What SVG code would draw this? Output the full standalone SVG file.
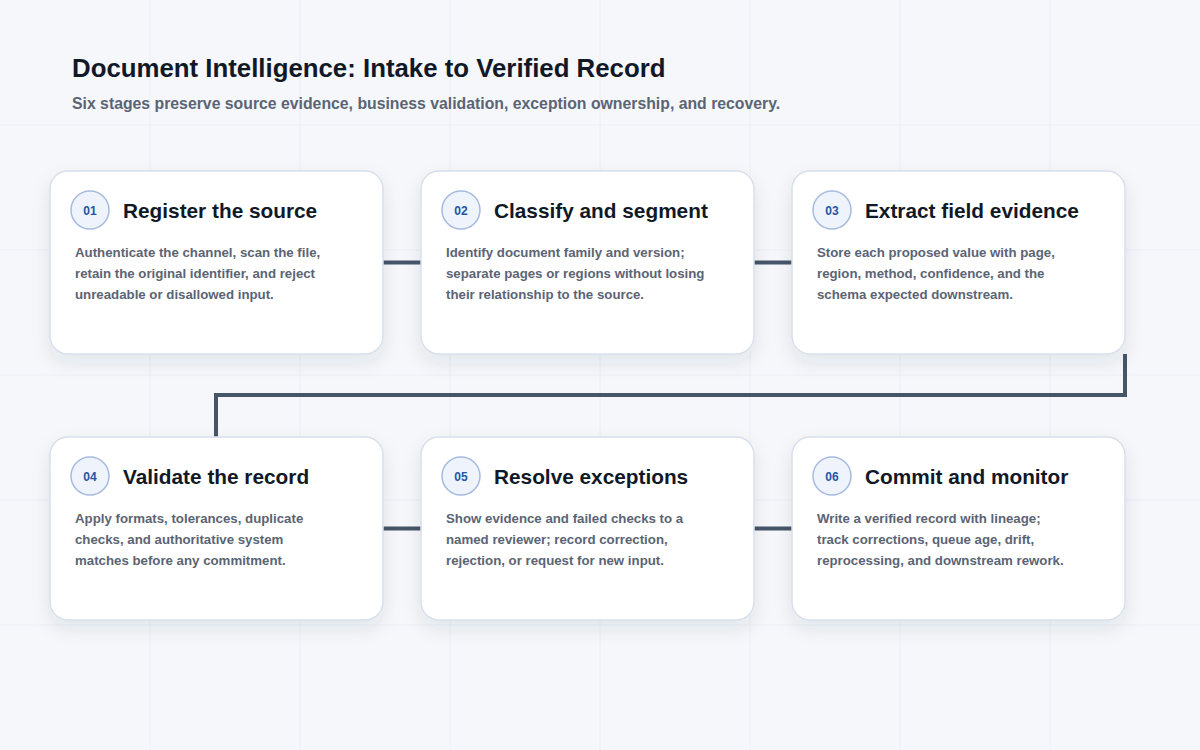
<svg xmlns="http://www.w3.org/2000/svg" width="1200" height="750" viewBox="0 0 1200 750">
<defs>
<style>
.bg{fill:#f5f7fb}
.grid{stroke:#ebeef4;stroke-width:1;fill:none}
.card{fill:#ffffff;stroke:#d8dfeb;stroke-width:1.5}
.badge{fill:#eef3fc;stroke:#a7bbdf;stroke-width:1.5}
.num{font-family:"Liberation Sans",Arial,sans-serif;font-weight:700;font-size:12px;fill:#2455a4;text-anchor:middle}
.ttl{font-family:"Liberation Sans",Arial,sans-serif;font-weight:700;font-size:20.8px;fill:#111827}
.body{font-family:"Liberation Sans",Arial,sans-serif;font-weight:700;font-size:13.25px;fill:#5b6474}
.h1{font-family:"Liberation Sans",Arial,sans-serif;font-weight:700;font-size:25.8px;fill:#111827}
.sub{font-family:"Liberation Sans",Arial,sans-serif;font-weight:700;font-size:15.8px;fill:#5b6474}
.conn{stroke:#475569;stroke-width:4;fill:none;stroke-linejoin:miter}
</style>
<filter id="sh" x="-20%" y="-20%" width="140%" height="150%">
<feDropShadow dx="0" dy="8" stdDeviation="9" flood-color="#1e293b" flood-opacity="0.09"/>
</filter>
</defs>
<rect class="bg" x="0" y="0" width="1200" height="750"/>
<g id="grid">
<path class="grid" d="M150 0V750M300 0V750M450 0V750M600 0V750M750 0V750M900 0V750M1050 0V750M0 125H1200M0 250H1200M0 375H1200M0 500H1200M0 625H1200"/>
</g>
<g id="header">
<text class="h1" x="72" y="77">Document Intelligence: Intake to Verified Record</text>
<text class="sub" x="72" y="109">Six stages preserve source evidence, business validation, exception ownership, and recovery.</text>
</g>
<g id="connectors">
<path class="conn" d="M383 262.5H421"/>
<path class="conn" d="M754 262.5H792"/>
<path class="conn" d="M1125 354V395H216V437"/>
<path class="conn" d="M383 528.5H421"/>
<path class="conn" d="M754 528.5H792"/>
</g>
<g id="node01">
<rect class="card" x="50" y="171" width="333" height="183" rx="18" filter="url(#sh)"/>
<circle class="badge" cx="90" cy="210" r="19"/>
<text class="num" x="90" y="214.5">01</text>
<text class="ttl" x="123" y="218">Register the source</text>
<text class="body" x="75" y="257">Authenticate the channel, scan the file,</text>
<text class="body" x="75" y="278">retain the original identifier, and reject</text>
<text class="body" x="75" y="299">unreadable or disallowed input.</text>
</g>
<g id="node02">
<rect class="card" x="421" y="171" width="333" height="183" rx="18" filter="url(#sh)"/>
<circle class="badge" cx="461" cy="210" r="19"/>
<text class="num" x="461" y="214.5">02</text>
<text class="ttl" x="494" y="218">Classify and segment</text>
<text class="body" x="446" y="257">Identify document family and version;</text>
<text class="body" x="446" y="278">separate pages or regions without losing</text>
<text class="body" x="446" y="299">their relationship to the source.</text>
</g>
<g id="node03">
<rect class="card" x="792" y="171" width="333" height="183" rx="18" filter="url(#sh)"/>
<circle class="badge" cx="832" cy="210" r="19"/>
<text class="num" x="832" y="214.5">03</text>
<text class="ttl" x="865" y="218">Extract field evidence</text>
<text class="body" x="817" y="257">Store each proposed value with page,</text>
<text class="body" x="817" y="278">region, method, confidence, and the</text>
<text class="body" x="817" y="299">schema expected downstream.</text>
</g>
<g id="node04">
<rect class="card" x="50" y="437" width="333" height="183" rx="18" filter="url(#sh)"/>
<circle class="badge" cx="90" cy="476" r="19"/>
<text class="num" x="90" y="480.5">04</text>
<text class="ttl" x="123" y="484">Validate the record</text>
<text class="body" x="75" y="523">Apply formats, tolerances, duplicate</text>
<text class="body" x="75" y="544">checks, and authoritative system</text>
<text class="body" x="75" y="565">matches before any commitment.</text>
</g>
<g id="node05">
<rect class="card" x="421" y="437" width="333" height="183" rx="18" filter="url(#sh)"/>
<circle class="badge" cx="461" cy="476" r="19"/>
<text class="num" x="461" y="480.5">05</text>
<text class="ttl" x="494" y="484">Resolve exceptions</text>
<text class="body" x="446" y="523">Show evidence and failed checks to a</text>
<text class="body" x="446" y="544">named reviewer; record correction,</text>
<text class="body" x="446" y="565">rejection, or request for new input.</text>
</g>
<g id="node06">
<rect class="card" x="792" y="437" width="333" height="183" rx="18" filter="url(#sh)"/>
<circle class="badge" cx="832" cy="476" r="19"/>
<text class="num" x="832" y="480.5">06</text>
<text class="ttl" x="865" y="484">Commit and monitor</text>
<text class="body" x="817" y="523">Write a verified record with lineage;</text>
<text class="body" x="817" y="544">track corrections, queue age, drift,</text>
<text class="body" x="817" y="565">reprocessing, and downstream rework.</text>
</g>
</svg>
